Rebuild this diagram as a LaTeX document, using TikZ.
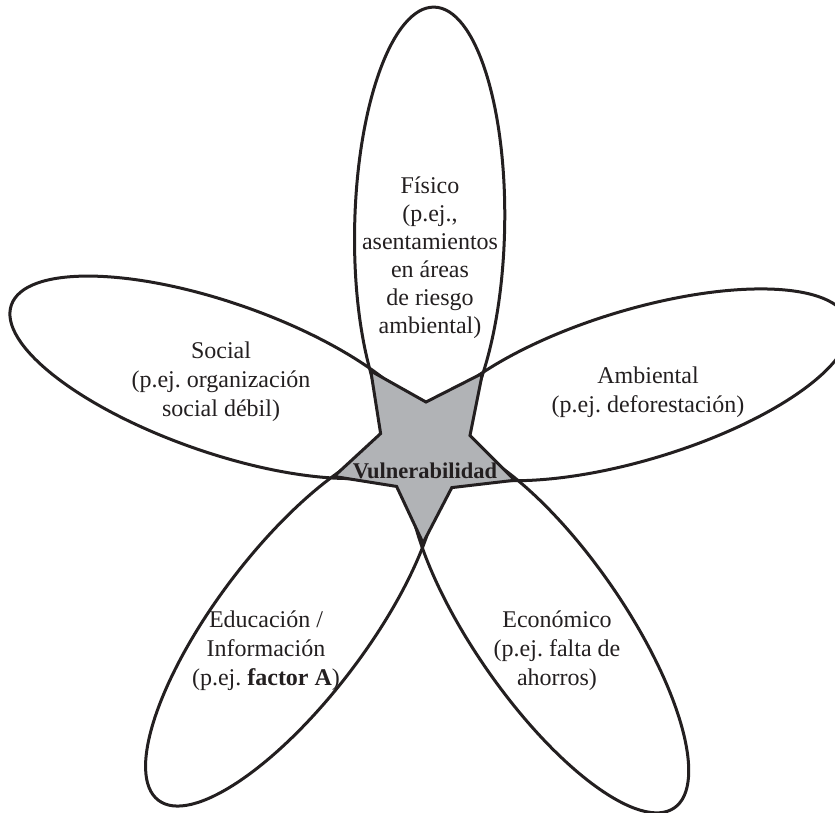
\documentclass[tikz,border=0pt]{standalone}
\usepackage{fontspec}
\setmainfont{Liberation Serif}
\definecolor{ink}{RGB}{35,31,32}
\definecolor{starfill}{RGB}{177,179,182}
\begin{document}
\frenchspacing
\begin{tikzpicture}[x=1pt,y=1pt,
  petal/.style={draw=ink, line width=3pt},
  starshape/.style={draw=ink, fill=starfill, line width=3pt, line join=miter},
  lbl/.style={text=ink, inner sep=0pt, anchor=base, font=\fontsize{24}{29}\selectfont},
  corelbl/.style={text=ink, inner sep=0pt, anchor=base, font=\fontsize{22.5}{27}\selectfont\bfseries}]
\useasboundingbox (0,0) rectangle (835,-813);
\coordinate (c) at (425,-449);
\begin{scope}[shift={(c)}, rotate=-1.2]
  \foreach \ang/\dist in {90/222,18/222,-54/217,-126/221,162/218}
    \draw[petal, rotate=\ang] (\dist,0) ellipse [x radius=220, y radius=75];
  \draw[starshape] (126:95) -- (90:47) -- (54:95) -- (18:47) -- (-18:95) -- (-54:47)
    -- (-90:94) -- (-126:47) -- (-162:95) -- (162:47) -- cycle;
\end{scope}
\node[lbl, font=\fontsize{24}{27.8}\selectfont] (fisico) at (430,-194)
  {\begin{tabular}[t]{@{}c@{}}Físico\\(p.ej.,\\asentamientos\\en áreas\\de riesgo\\ambiental)\end{tabular}};
\node[lbl] (social) at (221,-358)
  {\begin{tabular}[t]{@{}c@{}}Social\\(p.ej. organización\\social débil)\end{tabular}};
\node[lbl] (ambiental) at (648,-383)
  {\begin{tabular}[t]{@{}c@{}}Ambiental\\(p.ej. deforestación)\end{tabular}};
\node[lbl] (educacion) at (266,-627)
  {\begin{tabular}[t]{@{}c@{}}Educación /\\Información\\(p.ej. \textbf{factor A})\end{tabular}};
\node[lbl] (economico) at (557,-627)
  {\begin{tabular}[t]{@{}c@{}}Económico\\(p.ej. falta de\\ahorros)\end{tabular}};
\node[corelbl] (vuln) at (425,-478) {Vulnerabilidad};
\end{tikzpicture}
\end{document}
